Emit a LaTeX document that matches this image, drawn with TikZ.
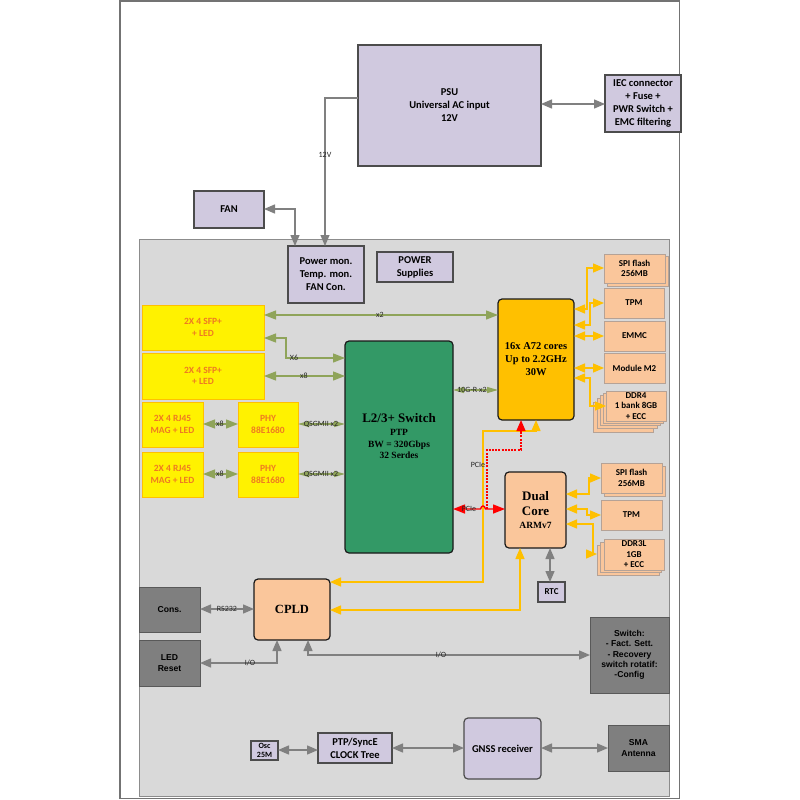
\documentclass[tikz,border=0pt]{standalone}
\usepackage{fontspec}
\setmainfont{Carlito}
\newfontfamily\serifb{Liberation Serif}
\newfontfamily\arialf{Liberation Sans}
\usetikzlibrary{arrows.meta,calc}
\definecolor{lilac}{HTML}{D0C9DF}
\definecolor{peach}{HTML}{FAC69B}
\definecolor{peachb}{HTML}{B5A296}
\definecolor{bggray}{HTML}{D9D9D9}
\definecolor{darkbox}{HTML}{7F7F7F}
\definecolor{swgreen}{HTML}{339966}
\definecolor{amber}{HTML}{FFC000}
\definecolor{olive}{HTML}{8FA45A}
\definecolor{orangetxt}{HTML}{EE7A22}
\newcommand{\bx}[7][]{\node[#2,minimum width={(#5-#3)*1pt},minimum height={(#6-#4)*1pt},#1] (#7) at ({(#3+#5)/2},{(#4+#6)/2})}
\newcommand{\sfb}[2]{{\serifb\bfseries\fontsize{#1}{#1}\selectfont #2}}
\tikzset{
  basebox/.style={draw,inner sep=0pt,outer sep=0pt,align=center},
  lilacbox/.style={basebox,fill=lilac,draw=black!70,line width=1.2pt,font=\fontsize{10.5}{13}\selectfont\bfseries},
  yellowbox/.style={basebox,fill=yellow,draw=amber,line width=0.9pt,text=orangetxt,font=\fontsize{9.5}{11.5}\selectfont\bfseries},
  peachbox/.style={basebox,fill=peach,draw=peachb,line width=0.9pt,font=\fontsize{9}{10.5}\selectfont\bfseries},
  graybox/.style={basebox,fill=darkbox,draw=black!65,line width=0.9pt,font=\arialf\fontsize{8.6}{10.3}\selectfont\bfseries},
  chipbox/.style={basebox,rounded corners=4pt,draw=black!90,line width=1.2pt},
  lbl/.style={inner sep=0pt,font=\fontsize{8}{9}\selectfont,text=black!85},
  gline/.style={draw=black!50,line width=1.4pt},
  gthin/.style={draw=black!50,line width=1.2pt},
  gnline/.style={draw=olive,line width=1.3pt},
  yline/.style={draw=amber,line width=1.4pt},
  rline/.style={draw=red,line width=1.4pt},
  rdash/.style={draw=red,line width=1.2pt,dash pattern=on 2pt off 1.2pt},
}
\begin{document}
\begin{tikzpicture}[x=1pt,y=-1pt,>={Triangle[length=11pt,width=9pt]}]
\useasboundingbox (0,0) rectangle (800,800);
\fill[white] (0,0) rectangle (800,800);
\draw[black!55,line width=1.2pt] (120,1) rectangle (679.5,798.5);
\fill[bggray] (139.5,239.5) rectangle (669,796);
\draw[black!45,line width=1pt] (139.5,239.5) rectangle (669,796);

% power area
\bx{lilacbox}{358}{45}{541}{166}{psu} {PSU\\Universal AC input\\12V};
\bx{lilacbox}{605}{75}{681}{132}{iec} {IEC connector\\+ Fuse +\\PWR Switch +\\EMC filtering};
\bx{lilacbox}{194}{191}{264}{228}{fan} {FAN};
\bx{lilacbox}{288}{246}{364}{303}{pmon} {Power mon.\\Temp. mon.\\FAN Con.};
\bx{lilacbox}{377}{252}{453}{282}{psup} {POWER\\Supplies};

% ports
\bx{yellowbox}{142}{305}{264}{350}{sfpa} {2X 4 SFP+\\+ LED};
\bx{yellowbox}{142}{353}{264}{399}{sfpb} {2X 4 SFP+\\+ LED};
\bx{yellowbox}{142}{402}{203}{447}{rja} {2X 4 RJ45\\MAG + LED};
\bx{yellowbox}{142}{452}{203}{497}{rjb} {2X 4 RJ45\\MAG + LED};
\bx{yellowbox}{238}{402}{298}{447}{phya} {PHY\\88E1680};
\bx{yellowbox}{238}{452}{298}{497}{phyb} {PHY\\88E1680};

% chips
\bx[fill=swgreen]{chipbox}{345}{341}{453}{553}{sw} {\sfb{13}{L2/3+ Switch}\\[1pt]\sfb{9.5}{PTP}\\\sfb{9.5}{BW = 320Gbps}\\[-1pt]\sfb{9.5}{32 Serdes}\\[11pt]\ };
\bx[fill=amber]{chipbox}{498}{299}{574}{420}{cpu} {\sfb{10.5}{16x A72 cores}\\[1pt]\sfb{10.5}{Up to 2.2GHz}\\[1pt]\sfb{10.5}{30W}};
\bx[fill=peach]{chipbox}{505}{472}{566}{548}{arm} {\sfb{13}{Dual}\\[3pt]\sfb{13}{Core}\\[1pt]\sfb{9.5}{ARMv7}};
\bx[fill=peach]{chipbox}{254}{579}{330}{640}{cpld} {\sfb{12.5}{CPLD}};

% CPU peripherals
\bx{peachbox}{607}{256}{668}{286}{spiaback} {};
\bx{peachbox}{604}{254}{665}{283}{spia} {SPI flash\\256MB};
\bx{peachbox}{604}{288}{664}{318}{tpma} {TPM};
\bx{peachbox}{604}{321}{665}{351}{emmc} {EMMC};
\bx{peachbox}{604}{353}{665}{383}{mtwo} {Module M2};
\bx{peachbox}{593}{402}{653}{432}{ddrfd} {};
\bx{peachbox}{597}{398}{657}{428}{ddrfc} {};
\bx{peachbox}{600}{395}{660}{425}{ddrfb} {};
\bx{peachbox}{603}{393}{663}{423}{ddrfa} {};
\bx{peachbox}{606}{391}{666}{421}{ddrf} {DDR4\\1 bank 8GB\\+ ECC};

% ARM peripherals
\bx{peachbox}{604}{466}{665}{496}{spibback} {};
\bx{peachbox}{601}{463}{662}{493}{spib} {SPI flash\\256MB};
\bx{peachbox}{601}{500}{662}{530}{tpmb} {TPM};
\bx{peachbox}{597}{545}{659}{575}{ddrtb} {};
\bx{peachbox}{600}{542}{661}{572}{ddrta} {};
\bx{peachbox}{604}{539}{664}{570}{ddrt} {DDR3L\\1GB\\+ ECC};
\bx[font=\fontsize{9}{10}\selectfont\bfseries]{lilacbox}{538}{582}{565}{602}{rtc} {RTC};

% gray boxes
\bx{graybox}{139}{587}{200}{632}{cons} {Cons.};
\bx{graybox}{139}{640}{200}{686}{led} {LED\\Reset};
\bx{graybox}{590}{617}{669}{693}{swbox} {Switch:\\- Fact. Sett.\\- Recovery\\switch rotatif:\\-Config};
\bx{graybox}{608}{725}{669}{771}{sma} {SMA\\Antenna};

% clocks
\bx[font=\fontsize{8}{9.5}\selectfont\bfseries]{lilacbox}{251}{741}{278}{760}{osc} {Osc\\25M};
\bx{lilacbox}{318}{733}{392}{763}{ptp} {PTP/SyncE\\CLOCK Tree};
\bx[rounded corners=4pt]{lilacbox}{464}{718}{541}{779}{gnss} {GNSS receiver};

% gray connectors
\draw[gthin,->] (psu.west |- 0,98) -- (325,98) -- (pmon.north -| 325,0);
\draw[gline,<->] (psu.east |- 0,104) -- (iec.west |- 0,104);
\draw[gline,<->] (fan.east |- 0,209) -- (295,209) -- (pmon.north -| 295,0);
\draw[gline,<->] (arm.south -| 550,0) -- (rtc.north -| 550,0);
\draw[gline,<->] (cons.east |- 0,609) -- (cpld.west |- 0,609);
\draw[gline,<->] (led.east |- 0,663) -- (277,663) -- (cpld.south -| 277,0);
\draw[gline,<->] (cpld.south -| 308,0) -- (308,655) -- (swbox.west |- 0,655);
\draw[gline,<->] (osc.east |- 0,750) -- (ptp.west |- 0,750);
\draw[gline,<->] (ptp.east |- 0,748) -- (gnss.west |- 0,748);
\draw[gline,<->] (gnss.east |- 0,748) -- (sma.west |- 0,748);

% green connectors
\draw[gnline,<->,>={Triangle[length=12pt,width=9pt]}] (sfpa.east |- 0,315) -- (cpu.west |- 0,315);
\draw[gnline,<->,>={Triangle[length=12pt,width=9pt]}] (sfpa.east |- 0,338) -- (286,338) -- (286,358) -- (sw.west |- 0,358);
\draw[gnline,<->,>={Triangle[length=12pt,width=9pt]}] (sfpb.east |- 0,376) -- (sw.west |- 0,376);
\draw[gnline,<->,>={Triangle[length=12pt,width=9pt]}] (rja.east |- 0,424) -- (phya.west |- 0,424);
\draw[gnline,<->,>={Triangle[length=12pt,width=9pt]}] (rjb.east |- 0,474) -- (phyb.west |- 0,474);
\draw[gnline,<->,>={Triangle[length=11pt,width=6pt]}] (phya.east |- 0,424) -- (sw.west |- 0,424);
\draw[gnline,<->,>={Triangle[length=11pt,width=6pt]}] (phyb.east |- 0,474) -- (sw.west |- 0,474);
\draw[gnline,<->,>={Triangle[length=11pt,width=6pt]}] (sw.east |- 0,390) -- (cpu.west |- 0,390);

% amber connectors
\draw[yline,<->] (cpu.east |- 0,309) -- (587,309) -- (587,268) -- (spia.west |- 0,268);
\draw[yline,<->] (cpu.east |- 0,325) -- (590,325) -- (590,303) -- (tpma.west |- 0,303);
\draw[yline,<->] (cpu.east |- 0,336) -- (emmc.west |- 0,336);
\draw[yline,<->] (cpu.east |- 0,368) -- (mtwo.west |- 0,368);
\draw[yline,<->] (cpu.east |- 0,378) -- (590,378) -- (590,406) -- (ddrf.west |- 0,406);
\draw[yline,<->] (arm.east |- 0,494) -- (589,494) -- (589,478) -- (spib.west |- 0,478);
\draw[yline,<->] (arm.east |- 0,509) -- (587,509) -- (587,515) -- (tpmb.west |- 0,515);
\draw[yline,<->] (arm.east |- 0,524) -- (593,524) -- (593,554) -- (ddrtb.west |- 0,554);
\draw[yline,<->] (cpld.east |- 0,582) -- (483,582) -- (483,431) -- (536,431) -- (cpu.south -| 536,0);
\draw[yline,<->] (cpld.east |- 0,610) -- (520,610) -- (arm.south -| 520,0);

% red connectors
\draw[rdash] (487,509) -- (487,450) -- (521,450) -- (521,430);
\draw[rline,->] (521,431) -- (cpu.south -| 521,0);
\draw[rline,<->,>={Triangle[length=12pt,width=9pt]}] (sw.east |- 0,509) -- (480.5,509) .. controls (481.5,505) and (484.5,505) .. (485.5,509) -- (arm.west |- 0,509);

% labels
\node[lbl] (ltwelve) at (325,155) {12V};
\node[lbl] (lxtwo) at (380,315) {x2};
\node[lbl] (lxsix) at (294,358) {X6};
\node[lbl] (lxeight) at (304,376) {x8};
\node[lbl] (lxeighta) at (220,424) {x8};
\node[lbl] (lxeightb) at (220,474) {x8};
\node[lbl] (lqa) at (321,424) {QSGMII x2};
\node[lbl] (lqb) at (321,474) {QSGMII x2};
\node[lbl] (lten) at (472,390) {10G-R x2};
\node[lbl] (lpa) at (478,465) {PCIe};
\node[lbl] (lpb) at (469,509) {PCIe};
\node[lbl] (lrs) at (227,609) {RS232};
\node[lbl] (lioa) at (250,663) {I/O};
\node[lbl] (liob) at (441,655) {I/O};
\end{tikzpicture}
\end{document}
